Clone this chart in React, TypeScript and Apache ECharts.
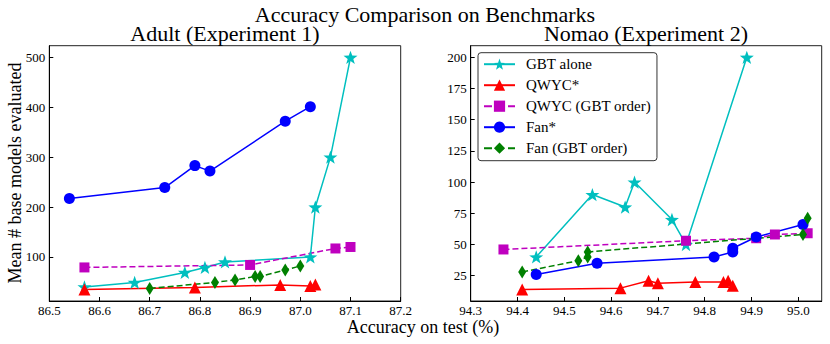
import React, { useEffect, useRef } from "react";
import * as echarts from "echarts";

// ---- Adult (Experiment 1) ----
const adultGbt: [number, number][] = [
  [86.57, 40], [86.67, 49], [86.77, 69], [86.81, 79], [86.85, 90],
  [87.02, 100], [87.03, 200], [87.06, 300], [87.1, 500],
];
const adultQwycStar: [number, number][] = [
  [86.57, 35], [86.79, 39], [86.96, 44], [87.02, 42], [87.03, 45],
];
const adultQwycGbt: [number, number][] = [
  [86.57, 79], [86.9, 84], [87.07, 117], [87.1, 120],
];
const adultFanStar: [number, number][] = [
  [86.54, 217], [86.73, 239], [86.79, 283], [86.82, 272], [86.97, 372], [87.02, 401],
];
const adultFanGbt: [number, number][] = [
  [86.7, 37], [86.83, 49], [86.87, 54], [86.91, 61], [86.92, 61], [86.97, 74], [87.0, 82],
];

// ---- Nomao (Experiment 2) ----
const nomaoGbt: [number, number][] = [
  [94.44, 40], [94.56, 90], [94.63, 80], [94.65, 100], [94.73, 70], [94.76, 50], [94.89, 200],
];
const nomaoQwycStar: [number, number][] = [
  [94.41, 14], [94.62, 15], [94.68, 21], [94.7, 19], [94.78, 20], [94.84, 20], [94.85, 21], [94.86, 17],
];
const nomaoQwycGbt: [number, number][] = [
  [94.37, 46], [94.76, 53], [94.91, 55], [94.95, 58], [95.02, 59],
];
const nomaoFanStar: [number, number][] = [
  [94.44, 26], [94.57, 35], [94.82, 40], [94.86, 44], [94.86, 47], [94.91, 56], [95.01, 66],
];
const nomaoFanGbt: [number, number][] = [
  [94.41, 28], [94.53, 37], [94.55, 40], [94.55, 44], [95.01, 58], [95.02, 71],
];

const adultXTicks = [86.5, 86.6, 86.7, 86.8, 86.9, 87.0, 87.1, 87.2];
const adultYTicks = [100, 200, 300, 400, 500];
const nomaoXTicks = [94.3, 94.4, 94.5, 94.6, 94.7, 94.8, 94.9, 95.0];
const nomaoYTicks = [25, 50, 75, 100, 125, 150, 175, 200];

const seriesNames = ["GBT alone", "QWYC*", "QWYC (GBT order)", "Fan*", "Fan (GBT order)"];

const FONT = "'Liberation Serif', 'Times New Roman', serif";
const STAR =
  "path://M0,-10 L2.35,-3.24 L9.51,-3.09 L3.8,1.24 L5.88,8.09 L0,4 L-5.88,8.09 L-3.8,1.24 L-9.51,-3.09 L-2.35,-3.24 Z";

const styles = [
  { color: "#00BFBF", symbol: STAR, size: 14, type: "solid" },
  { color: "#FF0000", symbol: "triangle", size: 12, type: "solid" },
  { color: "#BF00BF", symbol: "rect", size: 10, type: "dashed" },
  { color: "#0000FF", symbol: "circle", size: 11, type: "solid" },
  { color: "#008000", symbol: "diamond", size: [8, 13], type: "dashed" },
];

export default function App() {
  const ref = useRef<HTMLDivElement>(null);
  useEffect(() => {
    if (!ref.current) return;
    const chart = echarts.init(ref.current, undefined, { renderer: "svg" });

    const mkSeries = (data: [number, number][], i: number, gi: number) => {
      const s = styles[i];
      return {
        name: seriesNames[i],
        type: "line",
        xAxisIndex: gi,
        yAxisIndex: gi,
        data,
        symbol: s.symbol,
        symbolSize: s.size,
        symbolKeepAspect: true,
        showAllSymbol: true,
        lineStyle: { color: s.color, width: 1.5, type: s.type },
        itemStyle: { color: s.color, borderWidth: 0 },
        emphasis: { disabled: true },
      };
    };

    const labelStyle = {
      color: "#000",
      fontFamily: FONT,
      fontSize: 13,
    };

    const xAxisBase = (min: number, max: number, ticks: number[], gi: number) => ({
      type: "value",
      gridIndex: gi,
      min,
      max,
      splitLine: { show: false },
      axisLine: { show: true, lineStyle: { color: "#000", width: 1 } },
      axisTick: { show: true, inside: true, length: 4, customValues: ticks, lineStyle: { color: "#000" } },
      axisLabel: {
        customValues: ticks,
        formatter: (v: number) => v.toFixed(1),
        ...labelStyle,
        margin: 3,
      },
    });
    const yAxisBase = (min: number, max: number, ticks: number[], gi: number) => ({
      type: "value",
      gridIndex: gi,
      min,
      max,
      splitLine: { show: false },
      axisLine: { show: true, lineStyle: { color: "#000", width: 1 } },
      axisTick: { show: true, inside: true, length: 4, customValues: ticks, lineStyle: { color: "#000" } },
      axisLabel: {
        customValues: ticks,
        formatter: (v: number) => String(v),
        ...labelStyle,
        margin: 4,
      },
    });

    const adultData = [adultGbt, adultQwycStar, adultQwycGbt, adultFanStar, adultFanGbt];
    const nomaoData = [nomaoGbt, nomaoQwycStar, nomaoQwycGbt, nomaoFanStar, nomaoFanGbt];

    chart.setOption({
      animation: false,
      textStyle: { fontFamily: FONT, color: "#000" },
      grid: [
        { left: 49.3, top: 45.7, width: 351.4, height: 255.3, show: true, borderColor: "#222", borderWidth: 1, backgroundColor: "transparent" },
        { left: 470.7, top: 45.7, width: 351, height: 255.3, show: true, borderColor: "#222", borderWidth: 1, backgroundColor: "transparent" },
      ],
      xAxis: [
        xAxisBase(86.5, 87.2, adultXTicks, 0),
        xAxisBase(94.3, 95.05, nomaoXTicks, 1),
      ],
      yAxis: [
        yAxisBase(11.75, 523.25, adultYTicks, 0),
        yAxisBase(4.7, 209.3, nomaoYTicks, 1),
      ],
      legend: {
        data: seriesNames,
        orient: "vertical",
        left: 478,
        top: 52.7,
        itemWidth: 31,
        itemHeight: 14,
        itemGap: 6,
        padding: [4, 6, 5, 5],
        borderColor: "#333",
        borderWidth: 1,
        borderRadius: 3,
        backgroundColor: "#fff",
        textStyle: { fontFamily: FONT, fontSize: 15, color: "#000", padding: [0, 0, 0, 6] },
        selectedMode: false,
      },
      series: [
        ...adultData.map((d, i) => mkSeries(d, i, 0)),
        ...nomaoData.map((d, i) => mkSeries(d, i, 1)),
      ],
      graphic: [
        {
          type: "text",
          x: 425,
          y: 14,
          style: { text: "Accuracy Comparison on Benchmarks", fontFamily: FONT, fontSize: 22, fill: "#000", align: "center", verticalAlign: "middle" },
        },
        {
          type: "text",
          x: 225,
          y: 33,
          style: { text: "Adult (Experiment 1)", fontFamily: FONT, fontSize: 22, fill: "#000", align: "center", verticalAlign: "middle" },
        },
        {
          type: "text",
          x: 646,
          y: 33,
          style: { text: "Nomao (Experiment 2)", fontFamily: FONT, fontSize: 22, fill: "#000", align: "center", verticalAlign: "middle" },
        },
        {
          type: "text",
          x: 423,
          y: 327,
          style: { text: "Accuracy on test (%)", fontFamily: FONT, fontSize: 18, fill: "#000", align: "center", verticalAlign: "middle" },
        },
        {
          type: "text",
          x: 15,
          y: 173,
          rotation: Math.PI / 2,
          style: { text: "Mean # base models evaluated", fontFamily: FONT, fontSize: 18, fill: "#000", align: "center", verticalAlign: "middle" },
        },
      ],
    });
    return () => chart.dispose();
  }, []);
  return (
    <div
      ref={ref}
      style={{ position: "fixed", left: 0, top: 0, width: 830, height: 344, background: "#fff" }}
    />
  );
}
